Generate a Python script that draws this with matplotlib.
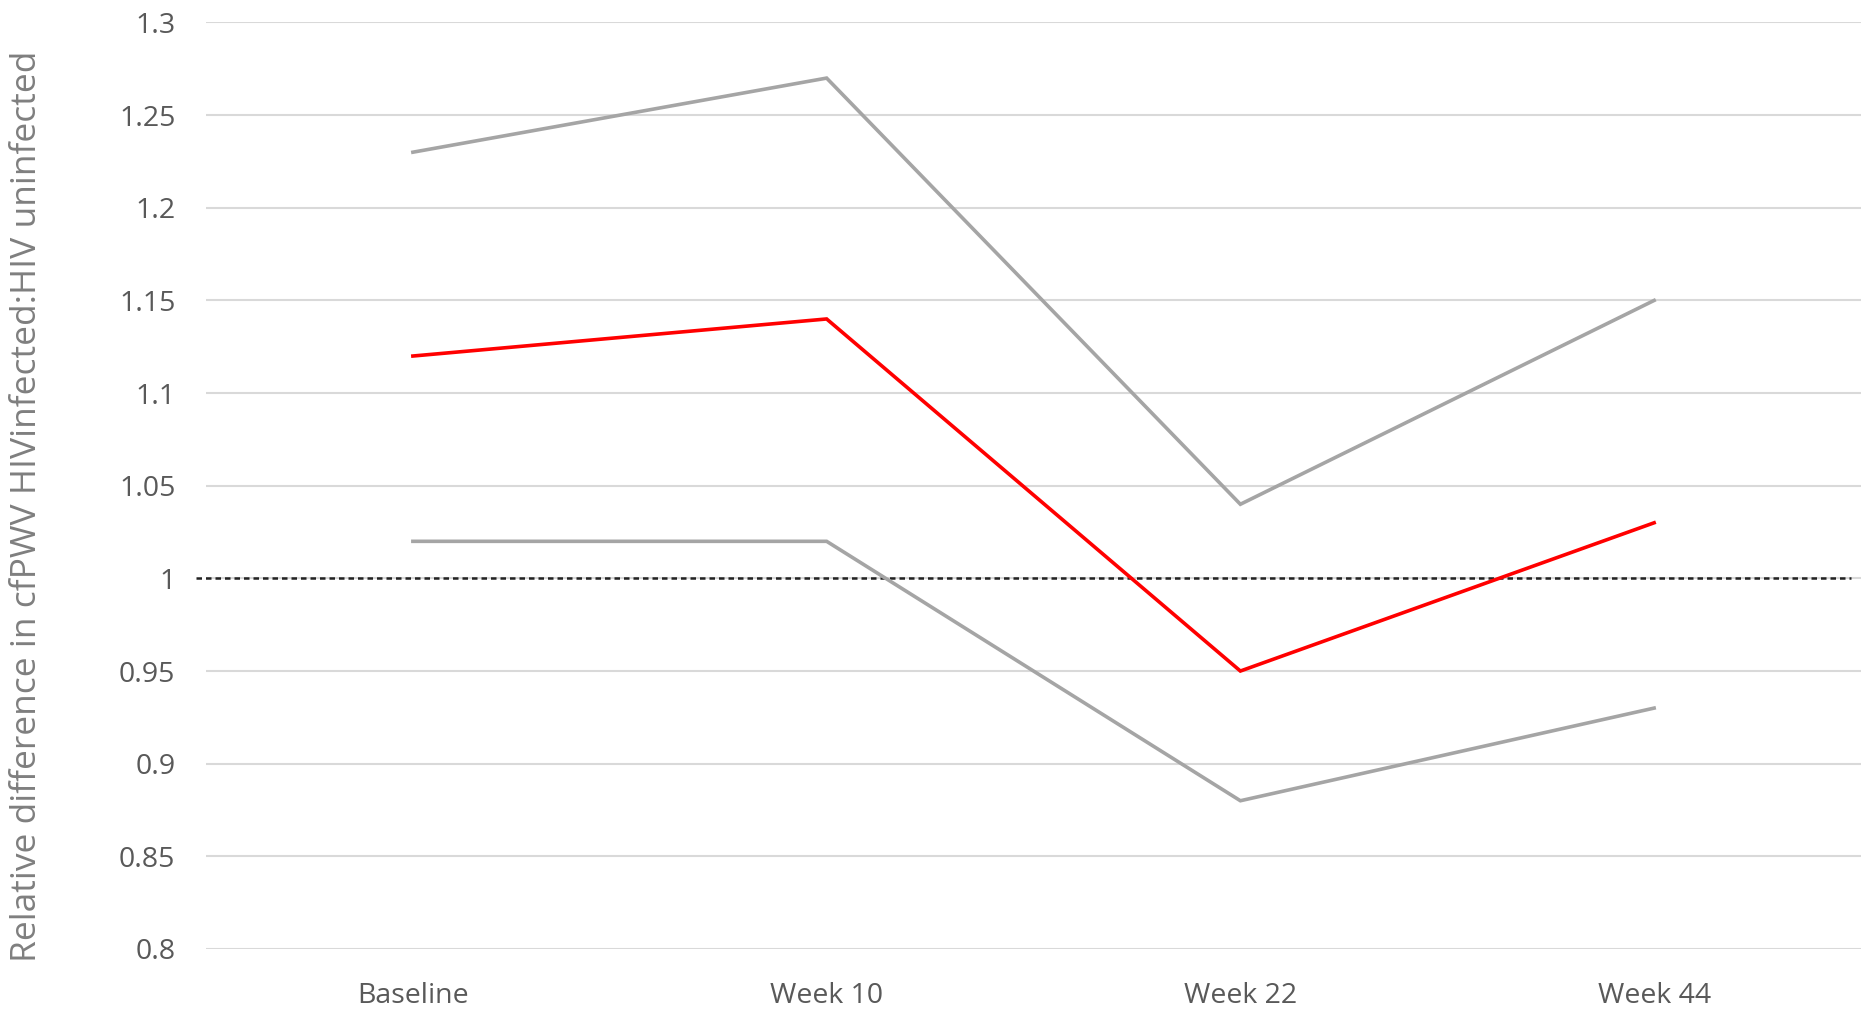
import matplotlib
matplotlib.use("Agg")
import matplotlib.pyplot as plt

categories = ["Baseline", "Week 10", "Week 22", "Week 44"]
upper_ci = [1.23, 1.27, 1.04, 1.15]
estimate = [1.12, 1.14, 0.95, 1.03]
lower_ci = [1.02, 1.02, 0.88, 0.93]
y_ticks = [0.8, 0.85, 0.9, 0.95, 1.0, 1.05, 1.1, 1.15, 1.2, 1.25, 1.3]
y_tick_labels = ["0.8", "0.85", "0.9", "0.95", "1", "1.05", "1.1", "1.15", "1.2", "1.25", "1.3"]
reference_value = 1.0
y_label = "Relative difference in cfPWV HIVinfected:HIV uninfected"

plt.rcParams['font.family'] = ['Open Sans', 'DejaVu Sans']

fig = plt.figure(figsize=(18.61, 10.13), dpi=100)
ax = fig.add_axes([0.1107, 0.0632, 0.8893, 0.9146])

x = list(range(len(categories)))
ax.plot(x, upper_ci, color="#a5a5a5", lw=2.6, solid_joinstyle="miter", zorder=3)
ax.plot(x, lower_ci, color="#a5a5a5", lw=2.6, solid_joinstyle="miter", zorder=3)
ax.plot(x, estimate, color="#ff0000", lw=2.6, solid_joinstyle="miter", zorder=4)
ax.axhline(reference_value, xmin=-0.006, xmax=0.994, color="#222222", lw=1.8,
           ls=(0, (2.2, 1.6)), zorder=2, clip_on=False)

ax.set_xlim(-0.5, 3.5)
ax.set_ylim(0.8, 1.3)
ax.set_xticks(x)
ax.set_xticklabels(categories)
ax.set_yticks(y_ticks)
ax.set_yticklabels(y_tick_labels)
ax.tick_params(axis="both", length=0, labelsize=20.5, colors="#595959")
ax.tick_params(axis="y", pad=22)
ax.tick_params(axis="x", pad=24)
ax.grid(axis="y", color="#d9d9d9", lw=1.5, zorder=0)
ax.set_axisbelow(True)
for s in ax.spines.values():
    s.set_visible(False)

fig.text(0.0145, 0.5, y_label, rotation=90, va="center", ha="center",
         fontsize=25.5, color="#7f7f7f")

fig.savefig("out.png", dpi=100, facecolor="white")
